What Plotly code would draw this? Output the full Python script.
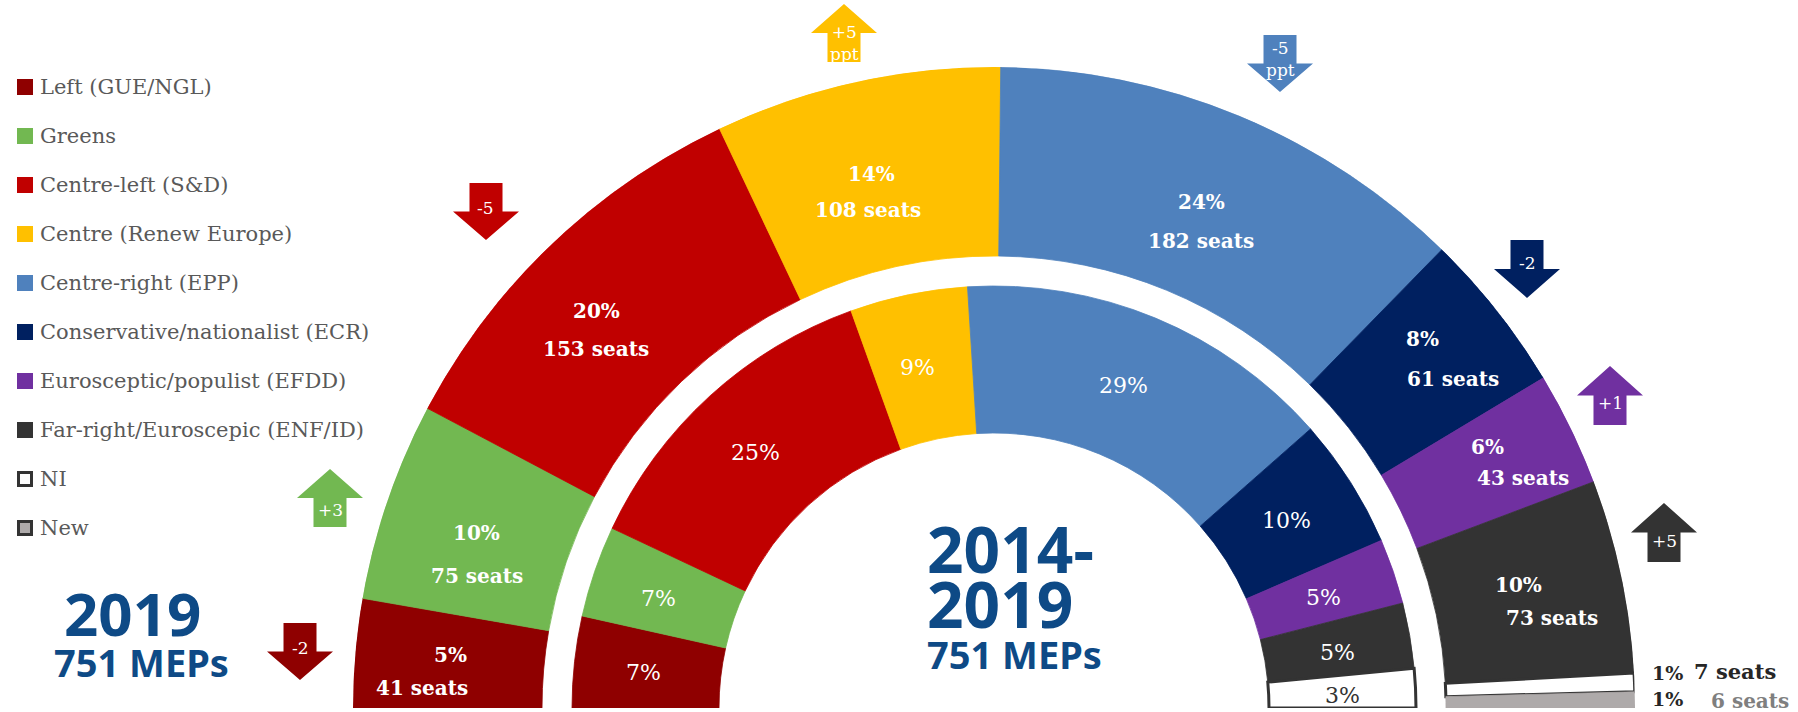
import plotly.graph_objects as go

W, H = 1798, 712

# ---------------- data ----------------
parties = ["Left (GUE/NGL)", "Greens", "Centre-left (S&D)", "Centre (Renew Europe)",
           "Centre-right (EPP)", "Conservative/nationalist (ECR)",
           "Eurosceptic/populist (EFDD)", "Far-right/Euroscepic (ENF/ID)", "NI", "New"]
colors = ["#8F0000", "#72B851", "#C00000", "#FFC000", "#4F81BD", "#002060",
          "#7030A0", "#333333", "#FFFFFF", "#AEAAAA"]
seats_2019 = [41, 75, 153, 108, 182, 61, 43, 73, 7, 6]
pct_2019 = [5, 10, 20, 14, 24, 8, 6, 10, 1, 1]
pct_2014 = [7, 7, 25, 9, 29, 10, 5, 5, 3, None]
change = ["-2", "+3", "-5", "+5<br>ppt", "-5<br>ppt", "-2", "+1", "+5", None, None]

# ---------------- geometry (styling) ----------------
CX, CY, R = 994, 708, 641
OUT_IN, OUT_OUT = 452, 641
IN_IN, IN_OUT = 275, 422


def px(x):
    return x / W


def py(y):
    return 1 - y / H


def spans(values):
    vals = [v for v in values if v is not None]
    tot = float(sum(vals))
    out, cum = [], 0.0
    for v in values:
        if v is None:
            out.append(None)
            continue
        s = v / tot * 180.0
        out.append((cum + s / 2.0, s))
        cum += s
    return out


outer = spans(seats_2019)
inner = spans(pct_2014)

fig = go.Figure()
for i in range(len(parties)):
    thetas, widths, rs, bases = [], [], [], []
    if outer[i] is not None:
        thetas.append(outer[i][0]); widths.append(outer[i][1])
        rs.append(OUT_OUT - OUT_IN); bases.append(OUT_IN)
    if inner[i] is not None:
        thetas.append(inner[i][0]); widths.append(inner[i][1])
        rs.append(IN_OUT - IN_IN); bases.append(IN_IN)
    if parties[i] == "NI":
        line = dict(color="#333333", width=3)
    else:
        line = dict(color=colors[i], width=0.8)
    fig.add_trace(go.Barpolar(
        r=rs, base=bases, theta=thetas, width=widths,
        marker=dict(color=colors[i], line=line),
        name=parties[i], showlegend=False, hoverinfo="name"))

fig.update_layout(
    width=W, height=H, margin=dict(l=0, r=0, t=0, b=0),
    paper_bgcolor="white", showlegend=False,
    polar=dict(
        domain=dict(x=[px(CX - R), px(CX + R)], y=[py(CY), py(CY - R)]),
        sector=[0, 180], hole=0, bgcolor="rgba(0,0,0,0)",
        barmode="overlay", bargap=0,
        radialaxis=dict(range=[0, R], visible=False, showgrid=False, showline=False),
        angularaxis=dict(rotation=180, direction="clockwise", visible=False,
                         showgrid=False, showline=False),
    ),
)

SERIF = "DejaVu Serif"
SANS = "Noto Sans"
TITLE_BLUE = "#0E4A86"

annotations = []
shapes = []


def text(x, y, t, size, color, family=SERIF, bold=False, xanchor="center", align="center"):
    if bold:
        t = "<b>" + t + "</b>"
    annotations.append(dict(x=px(x), y=py(y), xref="paper", yref="paper", text=t,
                            showarrow=False, xanchor=xanchor, yanchor="middle", align=align,
                            font=dict(family=family, size=size, color=color)))


# outer-ring labels (pixel positions)
outer_pos = [((450, 655), (422, 688)), ((477, 533), (477, 576)), ((596, 311), (596, 349)),
             ((871, 174), (868, 210)), ((1201, 202), (1201, 241)), ((1422, 339), (1453, 379)),
             ((1487, 447), (1523, 478)), ((1518, 585), (1552, 618))]
for i, (p1, p2) in enumerate(outer_pos):
    text(p1[0], p1[1], f"{pct_2019[i]}%", 20, "white", bold=True)
    text(p2[0], p2[1], f"{seats_2019[i]} seats", 20, "white", bold=True)

# NI / New labels outside
text(1667, 673, f"{pct_2019[8]}%", 19, "#262626", bold=True)
text(1735, 671, f"{seats_2019[8]} seats", 21, "#262626", bold=True, xanchor="left" if False else "center")
text(1667, 699, f"{pct_2019[9]}%", 19, "#262626", bold=True)
text(1750, 701, f"{seats_2019[9]} seats", 20, "#7F7F7F", bold=True)

# inner-ring labels
inner_pos = [(643, 672), (658, 598), (755, 452), (918, 367), (1123, 385),
             (1286, 520), (1323, 597), (1337, 652), (1342, 695)]
for i, p in enumerate(inner_pos):
    col = "#333333" if parties[i] == "NI" else "white"
    text(p[0], p[1], f"{pct_2014[i]}%", 22, col)

# change arrows: (centre x, top, bottom, direction, text y)
arrow_pos = [(300, 623, 680, "down", 648), (330, 469, 527, "up", 510),
             (486, 183, 240, "down", 208), (844, 4, 62, "up", 43),
             (1280, 35, 92, "down", 59), (1527, 240, 298, "down", 263),
             (1610, 366, 425, "up", 403), (1664, 503, 562, "up", 541)]
for i, (cx, top, bot, d, ty) in enumerate(arrow_pos):
    hh = (bot - top) / 2.0
    hw, sw = 33, 16.5
    if d == "up":
        pts = [(cx, top), (cx + hw, top + hh), (cx + sw, top + hh), (cx + sw, bot),
               (cx - sw, bot), (cx - sw, top + hh), (cx - hw, top + hh)]
    else:
        pts = [(cx - sw, top), (cx + sw, top), (cx + sw, top + hh), (cx + hw, top + hh),
               (cx, bot), (cx - hw, top + hh), (cx - sw, top + hh)]
    path = "M " + " L ".join(f"{px(x):.5f},{py(y):.5f}" for x, y in pts) + " Z"
    shapes.append(dict(type="path", xref="paper", yref="paper", path=path,
                       fillcolor=colors[i], line=dict(width=0)))
    annotations.append(dict(x=px(cx), y=py(ty), xref="paper", yref="paper",
                            text=change[i], showarrow=False, xanchor="center",
                            yanchor="middle",
                            font=dict(family=SERIF, size=17, color="white")))

# legend (manual)
for k, name in enumerate(parties):
    yc = 87 + 49 * k
    if name in ("NI", "New"):
        shapes.append(dict(type="rect", xref="paper", yref="paper",
                           x0=px(18.5), x1=px(31.5), y0=py(yc + 6.5), y1=py(yc - 6.5),
                           fillcolor=colors[k], line=dict(color="#333333", width=3)))
    else:
        shapes.append(dict(type="rect", xref="paper", yref="paper",
                           x0=px(17), x1=px(33), y0=py(yc + 8), y1=py(yc - 8),
                           fillcolor=colors[k], line=dict(width=0)))
    text(38, yc, name, 21, "#595959", xanchor="left", align="left")

# titles
text(132, 613, "2019", 60, TITLE_BLUE, family=SANS, bold=True)
text(141, 662, "751 MEPs", 38, TITLE_BLUE, family=SANS, bold=True)
text(925, 548, "2014-", 64, TITLE_BLUE, family=SANS, bold=True, xanchor="left")
text(925, 603, "2019", 64, TITLE_BLUE, family=SANS, bold=True, xanchor="left")
text(925, 654, "751 MEPs", 38, TITLE_BLUE, family=SANS, bold=True, xanchor="left")

fig.update_layout(annotations=annotations, shapes=shapes)
fig.write_html("out.html")
